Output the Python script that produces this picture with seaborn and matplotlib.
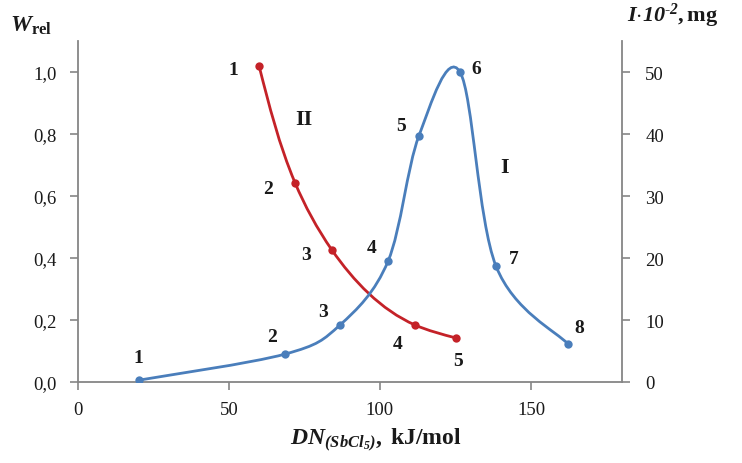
import seaborn as sns
import pandas as pd
import numpy as np
import matplotlib.pyplot as plt
from matplotlib.path import Path
from matplotlib.patches import PathPatch
from matplotlib.ticker import FuncFormatter

# curve I (right axis, I*10^-2 mg)
dn_I = [20.3, 68.6, 86.8, 102.7, 112.9, 126.5, 138.4, 162.3]
mass_I = [0.3, 4.5, 9.2, 19.5, 39.7, 50.0, 18.7, 6.1]
labels_I = ['1', '2', '3', '4', '5', '6', '7', '8']

# curve II (left axis, W_rel)
dn_II = [60.0, 71.9, 84.1, 111.6, 125.2]
w_II = [1.02, 0.643, 0.426, 0.184, 0.142]
labels_II = ['1', '2', '3', '4', '5']

left_ticks = [0.0, 0.2, 0.4, 0.6, 0.8, 1.0]
right_ticks = [0, 10, 20, 30, 40, 50]
x_ticks = [0, 50, 100, 150]

BLUE = '#4a7ebb'
RED = '#c42228'
GREY = '#868686'
TXT = '#1a1a1a'

sns.set_theme(style='white')
plt.rcParams['font.family'] = ['Liberation Serif', 'DejaVu Serif']
plt.rcParams['mathtext.fontset'] = 'custom'
plt.rcParams['mathtext.rm'] = 'Liberation Serif'
plt.rcParams['mathtext.it'] = 'Liberation Serif:italic'
plt.rcParams['mathtext.bf'] = 'Liberation Serif:bold'
plt.rcParams['mathtext.bfit'] = 'Liberation Serif:bold:italic'


def smooth_path(a, xs, ys, natural=False):
    # smoothed line drawn as bezier segments in screen space
    tr = a.transData
    pts = tr.transform(np.column_stack([xs, ys]))
    n = len(pts)
    verts = [pts[0]]
    codes = [Path.MOVETO]
    if natural:
        # natural parametric spline, chord length
        h = np.hypot(*np.diff(pts, axis=0).T)
        A = np.zeros((n, n))
        rhs = np.zeros((n, 2))
        A[0, 0] = A[-1, -1] = 1
        for i in range(1, n - 1):
            A[i, i - 1] = h[i - 1]
            A[i, i] = 2 * (h[i - 1] + h[i])
            A[i, i + 1] = h[i]
            rhs[i] = 6 * ((pts[i + 1] - pts[i]) / h[i] - (pts[i] - pts[i - 1]) / h[i - 1])
        M = np.linalg.solve(A, rhs)
        for i in range(n - 1):
            s = (pts[i + 1] - pts[i]) / h[i]
            d0 = s - h[i] * (2 * M[i] + M[i + 1]) / 6
            d1 = s + h[i] * (M[i] + 2 * M[i + 1]) / 6
            verts += [pts[i] + h[i] * d0 / 3, pts[i + 1] - h[i] * d1 / 3, pts[i + 1]]
            codes += [Path.CURVE4] * 3
    else:
        # excel-like catmull-rom
        for i in range(n - 1):
            p0 = pts[i - 1] if i > 0 else pts[i]
            p3 = pts[i + 2] if i + 2 < n else pts[i + 1]
            c1 = pts[i] + (pts[i + 1] - p0) / 6
            c2 = pts[i + 1] - (p3 - pts[i]) / 6
            verts += [c1, c2, pts[i + 1]]
            codes += [Path.CURVE4] * 3
    verts = tr.inverted().transform(np.array(verts))
    return Path(verts, codes)


fig = plt.figure(figsize=(7.42, 4.64), dpi=100)
ax = fig.add_axes([77.7 / 742, 81 / 464, 544 / 742, 341 / 464])
ax2 = ax.twinx()

ax.set_xlim(0, 180)
ax.set_ylim(0, 1.1)
ax2.set_ylim(0, 55)

# curve II on left axis
ax.add_patch(PathPatch(smooth_path(ax, dn_II, w_II, natural=True), fill=False, ec=RED,
                       lw=2.0, capstyle='round', zorder=3))
sns.scatterplot(x=dn_II, y=w_II, ax=ax, color=RED, s=36, edgecolor=RED,
                linewidth=0, zorder=4)

# curve I on right axis
ax2.add_patch(PathPatch(smooth_path(ax2, dn_I, mass_I), fill=False, ec=BLUE, lw=2.0,
                        capstyle='round', zorder=3))
sns.scatterplot(x=dn_I, y=mass_I, ax=ax2, color=BLUE, s=36, edgecolor=BLUE,
                linewidth=0, zorder=4)

lab_font = dict(fontsize=14, fontweight='bold', color=TXT, ha='center', va='center')
off_I = [(-1, 23), (-13, 18), (-17, 13), (-16, 14), (-18, 10), (16, 3), (18, 8), (11, 17)]
for x, y, t, (dx, dy) in zip(dn_I, mass_I, labels_I, off_I):
    ax2.annotate(t, (x, y), xytext=(dx * 0.72, dy * 0.72), textcoords='offset points', **lab_font)
off_II = [(-26, -4), (-27, -6), (-26, -5), (-17, -19), (2, -23)]
for x, y, t, (dx, dy) in zip(dn_II, w_II, labels_II, off_II):
    ax.annotate(t, (x, y), xytext=(dx * 0.72, dy * 0.72), textcoords='offset points', **lab_font)

fig.text(505 / 742, 1 - 168 / 464, 'I', fontsize=16, fontweight='bold', color=TXT,
         ha='center', va='center')
fig.text(304 / 742, 1 - 120 / 464, 'II', fontsize=16, fontweight='bold', color=TXT,
         ha='center', va='center')

# axes styling
for a in (ax, ax2):
    a.spines['top'].set_visible(False)
    for s in a.spines.values():
        s.set_color(GREY)
        s.set_linewidth(1.3)
    a.grid(False)
ax.spines['right'].set_visible(False)
ax2.spines['left'].set_visible(False)
ax2.spines['bottom'].set_visible(False)

ax.set_xticks(x_ticks)
ax.set_yticks(left_ticks)
ax2.set_yticks(right_ticks)
ax.yaxis.set_major_formatter(FuncFormatter(lambda v, p: f'{v:.1f}'.replace('.', ',')))

ax.tick_params(axis='both', which='major', direction='out', length=6, width=1.2,
               color=GREY, labelsize=13.5, labelcolor=TXT, left=True, bottom=True)
ax.tick_params(axis='y', pad=9)
ax.tick_params(axis='x', pad=8)
ax2.tick_params(axis='y', direction='out', length=6, width=1.2, color=GREY,
                labelsize=13.5, labelcolor=TXT, right=True, pad=11)

ax.set_xlabel('')
ax.set_ylabel('')
ax2.set_ylabel('')

fig.text(10 / 742, 1 - 26 / 464, r'$\mathbfit{W}_{\mathbf{rel}}$', fontsize=17,
         color=TXT, ha='left', va='center')
fig.text(627 / 742, 1 - 16 / 464, r'$\mathbfit{I}{\cdot}\mathbfit{10}^{\mathbfit{\text{-}2}}\mathbf{,mg}$',
         fontsize=16, color=TXT, ha='left', va='center')
fig.text(376 / 742, 1 - 440 / 464, r'$\mathbfit{DN}_{\mathbfit{(SbCl_5)}}\mathbf{,\ kJ/mol}$',
         fontsize=17, color=TXT, ha='center', va='center')

fig.savefig('out.png', dpi=100)
